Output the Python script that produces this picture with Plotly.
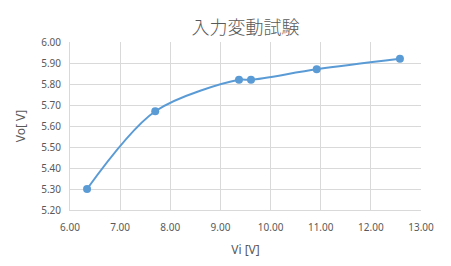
import plotly.graph_objects as go

vi = [6.34, 7.70, 9.37, 9.61, 10.92, 12.58]
vo = [5.30, 5.67, 5.82, 5.82, 5.87, 5.92]

title_text = "入力変動試験"
x_title = "Vi [V]"
y_title = "Vo[ V]"

fig = go.Figure()
fig.add_trace(go.Scatter(
    x=vi, y=vo, mode="lines+markers",
    line=dict(color="#5b9bd5", width=2, shape="spline", smoothing=0.9),
    marker=dict(color="#5b9bd5", size=8),
    showlegend=False,
))

grid = "#d9d9d9"
tick_font = dict(family="Noto Sans, DejaVu Sans, sans-serif", size=10, color="#595959")
fig.update_layout(
    width=451, height=266,
    margin=dict(l=70, r=30, t=42, b=54),
    paper_bgcolor="white", plot_bgcolor="white",
    title=dict(text=title_text, x=0.5, xref="paper", y=0.895, yanchor="middle",
               font=dict(family="Noto Sans CJK JP", size=18, color="#595959", weight=300)),
    xaxis=dict(range=[6, 13], dtick=1, tickformat=".2f", showgrid=True, gridcolor=grid,
               zeroline=False, showline=True, linecolor=grid, mirror=False,
               ticks="", tickfont=tick_font, ticklabelstandoff=8,
               title=dict(text=x_title, font=dict(family="Noto Sans", size=12, color="#595959"), standoff=12)),
    yaxis=dict(range=[5.2, 6.0], dtick=0.1, tickformat=".2f", showgrid=True, gridcolor=grid,
               zeroline=False, showline=True, linecolor=grid,
               ticks="", tickfont=tick_font, ticklabelstandoff=6,
               title=dict(text=y_title, font=dict(family="Noto Sans", size=12, color="#595959"), standoff=12)),
)
fig.write_html("out.html")
